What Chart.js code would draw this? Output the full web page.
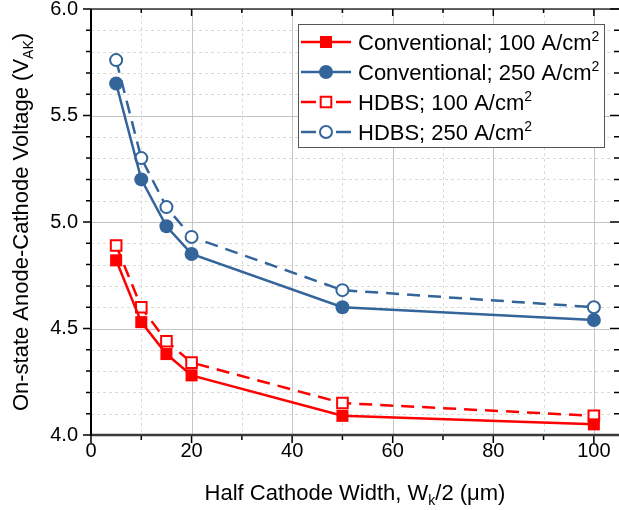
<!DOCTYPE html>
<html>
<head>
<meta charset="utf-8">
<script src="https://cdn.jsdelivr.net/npm/chart.js@4.4.1/dist/chart.umd.min.js"></script>
<style>
html, body { margin: 0; padding: 0; background: #fff; overflow: hidden; }
canvas { display: block; }
</style>
</head>
<body>
<canvas id="chartVak" width="619" height="510"></canvas>
<script>
const widths = [5, 10, 15, 20, 50, 100]
const conv100 = [4.82, 4.53, 4.38, 4.28, 4.09, 4.05]
const conv250 = [5.65, 5.20, 4.98, 4.85, 4.60, 4.54]
const hdbs100 = [4.89, 4.60, 4.44, 4.34, 4.15, 4.09]
const hdbs250 = [5.76, 5.30, 5.07, 4.93, 4.68, 4.60]
const seriesNames = ['Conventional; 100 A/cm', 'Conventional; 250 A/cm', 'HDBS; 100 A/cm', 'HDBS; 250 A/cm']
const xMajor = [0, 20, 40, 60, 80, 100]
const xMinor = [10, 30, 50, 70, 90]
const yMajor = [4.0, 4.5, 5.0, 5.5, 6.0]
const yMinor = [4.1, 4.2, 4.3, 4.4, 4.6, 4.7, 4.8, 4.9, 5.1, 5.2, 5.3, 5.4, 5.6, 5.7, 5.8, 5.9]

const RED = '#ff0000'
const BLUE = '#33659b'
const FONT = '"Liberation Sans", Arial, sans-serif'

function pts(arr) {
    return widths.map((w, i) => ({ x: w, y: arr[i] }))
}

const datasets = [
    { label: seriesNames[0], data: pts(conv100), borderColor: RED, backgroundColor: RED,
      pointStyle: 'rect', pointRadius: 8.5, pointBorderWidth: 0, borderWidth: 2.5 },
    { label: seriesNames[1], data: pts(conv250), borderColor: BLUE, backgroundColor: BLUE,
      pointStyle: 'circle', pointRadius: 7, pointBorderWidth: 0, borderWidth: 2.5 },
    { label: seriesNames[2], data: pts(hdbs100), borderColor: RED, backgroundColor: '#fff',
      pointStyle: 'rect', pointRadius: 7.5, pointBorderWidth: 2, borderWidth: 2.5, borderDash: [13, 8] },
    { label: seriesNames[3], data: pts(hdbs250), borderColor: BLUE, backgroundColor: '#fff',
      pointStyle: 'circle', pointRadius: 6, pointBorderWidth: 2, borderWidth: 2.5, borderDash: [13, 8] }
]
datasets.forEach(d => { d.pointBackgroundColor = d.backgroundColor; d.pointBorderColor = d.borderColor; d.fill = false; d.tension = 0 })

function noPad(s) {
    s.paddingTop = 0; s.paddingBottom = 0; s.paddingLeft = 0; s.paddingRight = 0
}

// grid, frame, ticks and x labels drawn from the scales
const framePlugin = {
    id: 'frame',
    beforeDatasetsDraw(chart) {
        const { ctx, chartArea: a, scales: { x, y } } = chart
        ctx.save()
        ctx.lineWidth = 1
        ctx.strokeStyle = '#dadada'
        ctx.setLineDash([3, 3])
        xMinor.forEach(v => { const p = Math.round(x.getPixelForValue(v)) + 0.5; ctx.beginPath(); ctx.moveTo(p, a.top); ctx.lineTo(p, a.bottom); ctx.stroke() })
        yMinor.forEach(v => { const p = Math.round(y.getPixelForValue(v)) + 0.5; ctx.beginPath(); ctx.moveTo(a.left, p); ctx.lineTo(a.right - 6, p); ctx.stroke() })
        ctx.setLineDash([])
        ctx.strokeStyle = '#c4c4c4'
        xMajor.forEach(v => { const p = Math.round(x.getPixelForValue(v)) + 0.5; ctx.beginPath(); ctx.moveTo(p, a.top); ctx.lineTo(p, a.bottom); ctx.stroke() })
        yMajor.forEach(v => { const p = Math.round(y.getPixelForValue(v)) + 0.5; ctx.beginPath(); ctx.moveTo(a.left, p); ctx.lineTo(a.right - 9, p); ctx.stroke() })
        ctx.restore()
    },
    afterDatasetsDraw(chart) {
        const { ctx, chartArea: a, scales: { x, y } } = chart
        ctx.save()
        // top frame
        ctx.strokeStyle = '#333'
        ctx.lineWidth = 1.5
        ctx.beginPath(); ctx.moveTo(a.left, a.top); ctx.lineTo(a.right, a.top); ctx.stroke()
        ctx.lineWidth = 1.5
        ctx.strokeStyle = '#000'
        // ticks
        xMajor.forEach(v => { const p = x.getPixelForValue(v); ctx.beginPath(); ctx.moveTo(p, a.bottom); ctx.lineTo(p, a.bottom + 8); ctx.moveTo(p, a.top); ctx.lineTo(p, a.top + 7); ctx.stroke() })
        xMinor.forEach(v => { const p = x.getPixelForValue(v); ctx.beginPath(); ctx.moveTo(p, a.bottom); ctx.lineTo(p, a.bottom + 5); ctx.moveTo(p, a.top); ctx.lineTo(p, a.top + 4); ctx.stroke() })
        yMajor.forEach(v => { const p = y.getPixelForValue(v); ctx.beginPath(); ctx.moveTo(a.left, p); ctx.lineTo(a.left - 8, p); ctx.moveTo(a.right + 1, p); ctx.lineTo(a.right - 9, p); ctx.stroke() })
        yMinor.forEach(v => { const p = y.getPixelForValue(v); ctx.beginPath(); ctx.moveTo(a.left, p); ctx.lineTo(a.left - 5, p); ctx.moveTo(a.right + 1, p); ctx.lineTo(a.right - 5, p); ctx.stroke() })
        // axes
        ctx.lineWidth = 2.5
        ctx.strokeStyle = '#3a3a3a'
        ctx.beginPath(); ctx.moveTo(a.left - 1, a.bottom); ctx.lineTo(a.right, a.bottom); ctx.stroke()
        ctx.lineWidth = 2
        ctx.strokeStyle = '#000'
        ctx.beginPath(); ctx.moveTo(a.left, a.top); ctx.lineTo(a.left, a.bottom + 1); ctx.stroke()
        // x tick labels
        ctx.fillStyle = '#000'
        ctx.font = '20px ' + FONT
        ctx.textAlign = 'center'
        ctx.textBaseline = 'top'
        xMajor.forEach(v => ctx.fillText(String(v), x.getPixelForValue(v), a.bottom + 6))
        ctx.restore()
    },
    afterDraw(chart) {
        const { ctx, chartArea: a } = chart
        ctx.save()
        ctx.fillStyle = '#000'
        ctx.textBaseline = 'alphabetic'
        // pieces: [text, size, dy]
        function runWidth(parts) {
            let w = 0
            parts.forEach(p => { ctx.font = p[1] + 'px ' + FONT; w += ctx.measureText(p[0]).width })
            return w
        }
        function drawRun(parts, x0, y0) {
            let cx = x0
            parts.forEach(p => { ctx.font = p[1] + 'px ' + FONT; ctx.fillText(p[0], cx, y0 + p[2]); cx += ctx.measureText(p[0]).width })
        }
        // x title
        const xt = [['Half Cathode Width, W', 22, 0], ['k', 14, 5], ['/2 (', 22, 0], ['\u03bcm', 22, 0], [')', 22, 0]]
        const xc = (a.left + a.right) / 2
        drawRun(xt, xc - runWidth(xt) / 2, 500)
        // y title
        const yt = [['On-state Anode-Cathode Voltage (V', 22, 0], ['AK', 14, 5], [')', 22, 0]]
        ctx.save()
        ctx.translate(28, (a.top + a.bottom) / 2)
        ctx.rotate(-Math.PI / 2)
        drawRun(yt, -runWidth(yt) / 2, 0)
        ctx.restore()
        // legend
        const lx = 298, ly = 24, lw = 306, lh = 123
        ctx.fillStyle = '#fff'
        ctx.fillRect(lx, ly, lw, lh)
        ctx.strokeStyle = '#555'
        ctx.lineWidth = 1
        ctx.strokeRect(lx + 0.5, ly + 0.5, lw, lh)
        chart.data.datasets.forEach((d, i) => {
            const ry = 42 + i * 30
            ctx.strokeStyle = d.borderColor
            ctx.lineWidth = 2.5
            ctx.beginPath()
            if (d.borderDash) {
                ctx.moveTo(301, ry); ctx.lineTo(316, ry); ctx.moveTo(336, ry); ctx.lineTo(351, ry)
            } else {
                ctx.moveTo(301, ry); ctx.lineTo(351, ry)
            }
            ctx.stroke()
            ctx.fillStyle = d.pointBackgroundColor
            ctx.strokeStyle = d.pointBorderColor
            ctx.lineWidth = d.pointBorderWidth
            ctx.beginPath()
            if (d.pointStyle === 'rect') {
                const s = d.pointRadius * Math.SQRT1_2
                ctx.rect(326 - s, ry - s, 2 * s, 2 * s)
            } else {
                ctx.arc(326, ry, d.pointRadius, 0, Math.PI * 2)
            }
            ctx.fill()
            if (d.pointBorderWidth) ctx.stroke()
            ctx.fillStyle = '#000'
            drawRun([[d.label, 22, 0], ['2', 14, -9]], 358, ry + 8)
        })
        ctx.restore()
    }
}

var ctxVak = document.getElementById('chartVak').getContext('2d');
var chartVak = new Chart(ctxVak, {
    type: 'line',
    data: { datasets: datasets },
    options: {
        responsive: false,
        animation: false,
        layout: { autoPadding: false, padding: { top: 9, right: 0, left: 0, bottom: 0 } },
        plugins: { legend: { display: false }, tooltip: { enabled: false } },
        scales: {
            x: {
                type: 'linear', min: 0, max: 105,
                afterBuildTicks: s => { s.ticks = xMajor.map(v => ({ value: v })) },
                afterFit: s => { s.height = 75; noPad(s) },
                grid: { display: false, drawTicks: false },
                border: { display: false },
                ticks: { display: false }
            },
            y: {
                type: 'linear', min: 4, max: 6,
                afterBuildTicks: s => { s.ticks = yMajor.map(v => ({ value: v })) },
                afterFit: s => { s.width = 91; noPad(s) },
                grid: { display: false, drawTicks: false },
                border: { display: false },
                ticks: { color: '#000', font: { family: FONT, size: 20 }, padding: 13, callback: v => v.toFixed(1) }
            }
        }
    },
    plugins: [framePlugin]
});
</script>
</body>
</html>
